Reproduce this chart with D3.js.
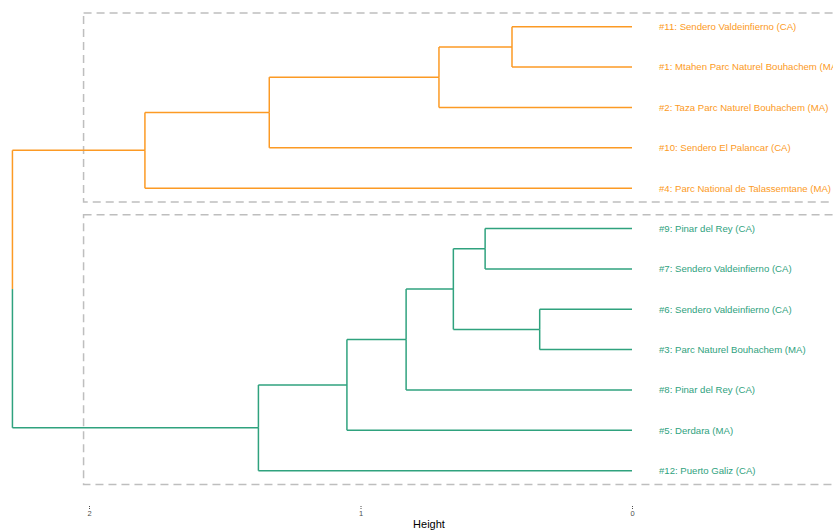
<!DOCTYPE html>
<html>
<head>
<meta charset="utf-8">
<script src="https://cdn.jsdelivr.net/npm/d3@7"></script>
<style>
  body { margin: 0; background: #fff; }
  svg { display: block; font-family: "Liberation Sans", Arial, sans-serif; }
</style>
</head>
<body>
<div id="container"></div>
<script>
// leaves, top to bottom, as they appear in the dendrogram
let leafIds = ["#11", "#1", "#2", "#10", "#4", "#9", "#7", "#6", "#3", "#8", "#5", "#12"];
let leafNames = [
  "#11: Sendero Valdeinfierno (CA)",
  "#1: Mtahen Parc Naturel Bouhachem (MA)",
  "#2: Taza Parc Naturel Bouhachem (MA)",
  "#10: Sendero El Palancar (CA)",
  "#4: Parc National de Talassemtane (MA)",
  "#9: Pinar del Rey (CA)",
  "#7: Sendero Valdeinfierno (CA)",
  "#6: Sendero Valdeinfierno (CA)",
  "#3: Parc Naturel Bouhachem (MA)",
  "#8: Pinar del Rey (CA)",
  "#5: Derdara (MA)",
  "#12: Puerto Galiz (CA)"
];
let leafCluster = [1, 1, 1, 1, 1, 2, 2, 2, 2, 2, 2, 2];

// merge steps (like hclust): "mN" points to step N (1-based)
let mergeLeft   = ["#6", "#11", "#9", "m3", "m2", "m4", "m6", "m5",  "m7",  "m8",  "m10"];
let mergeRight  = ["#3", "#1",  "#7", "m1", "#2", "#8", "#5", "#10", "#12", "#4",  "m9"];
let mergeHeight = [0.34, 0.442, 0.541, 0.658, 0.711, 0.832, 1.05, 1.336, 1.376, 1.794, 2.282];

let axisTicks = [2, 1, 0];

let clusterColors = { 1: "#FC9A24", 2: "#2FA27E" };

let w = 833;
let h = 530;

let svg = d3.select("#container").append("svg")
  .attr("width", w)
  .attr("height", h);

// scales
let xScale = d3.scaleLinear().domain([0, 2]).range([632, 89]);
let yScale = d3.scalePoint().domain(leafIds).range([26.7, 470.7]);
let step = yScale.step();

// build nodes
let nodes = {};
leafIds.forEach(function(id, i){
  nodes[id] = { id: id, height: 0, y: yScale(id), cluster: leafCluster[i], name: leafNames[i] };
});
mergeHeight.forEach(function(ht, i){
  let a = nodes[mergeLeft[i]];
  let b = nodes[mergeRight[i]];
  let c = a.cluster === b.cluster ? a.cluster : null;
  nodes["m" + (i + 1)] = { id: "m" + (i + 1), height: ht, y: (a.y + b.y) / 2, cluster: c, children: [a, b] };
});
let root = nodes["m" + mergeHeight.length];

// cluster rectangles (dashed)
let rectGroup = svg.append("g");
[1, 2].forEach(function(k){
  let ids = leafIds.filter(function(d, i){ return leafCluster[i] === k; });
  let y0 = d3.min(ids, yScale) - step * 0.34;
  let y1 = d3.max(ids, yScale) + step * 0.34;
  rectGroup.append("rect")
    .attr("x", xScale(2.02))
    .attr("y", y0)
    .attr("width", xScale(-0.8) - xScale(2.02))
    .attr("height", y1 - y0)
    .attr("fill", "none")
    .attr("stroke", "#BEBEBE")
    .attr("stroke-width", 1.5)
    .attr("stroke-dasharray", "8,5");
});

// dendrogram segments
let segGroup = svg.append("g").attr("fill", "none").attr("stroke-width", 1.5);
function drawNode(n){
  if (!n.children) return;
  let xp = xScale(n.height);
  n.children.forEach(function(c){
    let col = clusterColors[c.cluster];
    // vertical from parent mid to child y
    segGroup.append("line")
      .attr("x1", xp).attr("x2", xp)
      .attr("y1", n.y).attr("y2", c.y)
      .attr("stroke", col);
    // horizontal to child
    segGroup.append("line")
      .attr("x1", xp).attr("x2", xScale(c.height))
      .attr("y1", c.y).attr("y2", c.y)
      .attr("stroke", col);
    drawNode(c);
  });
}
drawNode(root);

// leaf labels
svg.append("g").selectAll("text")
  .data(leafIds.map(function(id){ return nodes[id]; }))
  .enter().append("text")
    .attr("x", xScale(0) + 27)
    .attr("y", function(d){ return d.y; })
    .attr("dy", "0.35em")
    .attr("font-size", 9.6)
    .attr("fill", function(d){ return clusterColors[d.cluster]; })
    .text(function(d){ return d.name; });

// x axis (Height)
let xAxis = d3.axisBottom(xScale).tickValues(axisTicks).tickSize(3).tickPadding(2).tickFormat(d3.format("d"));
let xAxisGroup = svg.append("g").attr("transform", "translate(0,506)").call(xAxis);
xAxisGroup.select(".domain").remove();
xAxisGroup.selectAll("line").attr("stroke", "#4d4d4d").attr("stroke-width", 1).attr("stroke-dasharray", "1,1");
xAxisGroup.selectAll("text").attr("font-size", 7.5).attr("fill", "#4d4d4d")
  .attr("font-family", "Liberation Sans, Arial, sans-serif");

svg.append("text")
  .attr("x", 429)
  .attr("y", 528)
  .attr("text-anchor", "middle")
  .attr("font-size", 11)
  .attr("fill", "#000")
  .text("Height");
</script>
</body>
</html>
